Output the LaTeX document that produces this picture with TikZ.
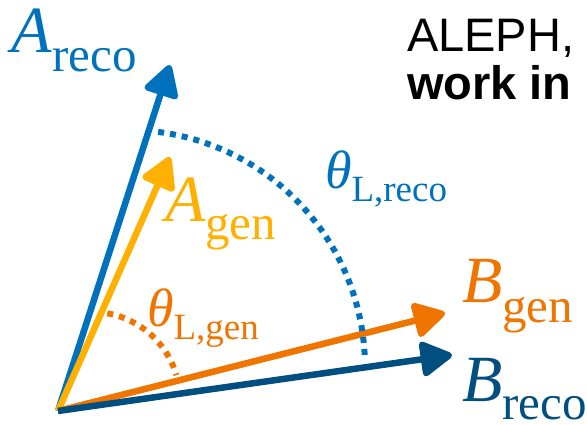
\documentclass[tikz,border=0pt]{standalone}
\usepackage{fontspec}
\setmainfont{Liberation Serif}
\newfontfamily\labsans{Liberation Sans}
\usetikzlibrary{arrows.meta,calc}
\definecolor{areco}{RGB}{0,114,189}
\definecolor{agen}{RGB}{255,176,0}
\definecolor{bgen}{RGB}{240,117,0}
\definecolor{breco}{RGB}{0,79,128}
\newcommand{\biglab}[3]{{\fontsize{66}{66}\selectfont\itshape #1}\raisebox{-#3pt}{\fontsize{49}{49}\selectfont #2}}
\newcommand{\thlab}[2]{{\fontsize{54}{54}\selectfont\itshape θ}\raisebox{-#2pt}{\fontsize{37}{37}\selectfont #1}}
\begin{document}
\begin{tikzpicture}[x=1pt,y=1pt,
  vec/.style={line width=6.5pt,-{Triangle[length=35pt,width=38pt,round]}},
  dots/.style={line width=6pt,dash pattern=on 6pt off 6pt},
  lab/.style={anchor=base west,inner sep=0pt,outer sep=0pt}]
\useasboundingbox (0,0) rectangle (587,425);
\coordinate (O) at (58,14);
\coordinate (Ar) at (170,360);
\coordinate (Ag) at (170,268);
\coordinate (Bg) at (445,112);
\coordinate (Br) at (452,70);
\draw[vec,areco] (O) -- (Ar);
\draw[vec,agen] (O) -- (Ag);
\draw[vec,bgen] (O) -- (Bg);
\draw[vec,breco] (O) -- (Br);
\coordinate (cb) at (128,58);
\coordinate (co) at (92,25);
\draw[dots,areco] ($(cb)+(82.7:237)$) arc[start angle=82.7,end angle=2.2,radius=237];
\draw[dots,bgen] ($(co)+(80:88)$) arc[start angle=80,end angle=16.4,radius=88];
\node[lab,text=areco] (lAr) at (12,372) {\biglab{A}{reco}{19}};
\node[lab,text=agen] (lAg) at (165,203) {\biglab{A}{gen}{18}};
\node[lab,text=bgen] (lBg) at (462,122) {\biglab{B}{gen}{20}};
\node[lab,text=breco] (lBr) at (462,23) {\biglab{B}{reco}{18}};
\node[lab,text=areco] (tr) at (325,236) {\thlab{L,reco}{13}};
\node[lab,text=bgen] (tg) at (147,98) {\thlab{L,gen}{13}};
\node[lab] (al) at (407,373) {\labsans\fontsize{47}{47}\selectfont ALEPH,};
\node[lab] (wi) at (407,325) {\labsans\bfseries\fontsize{47}{47}\selectfont work in};
\end{tikzpicture}
\end{document}
